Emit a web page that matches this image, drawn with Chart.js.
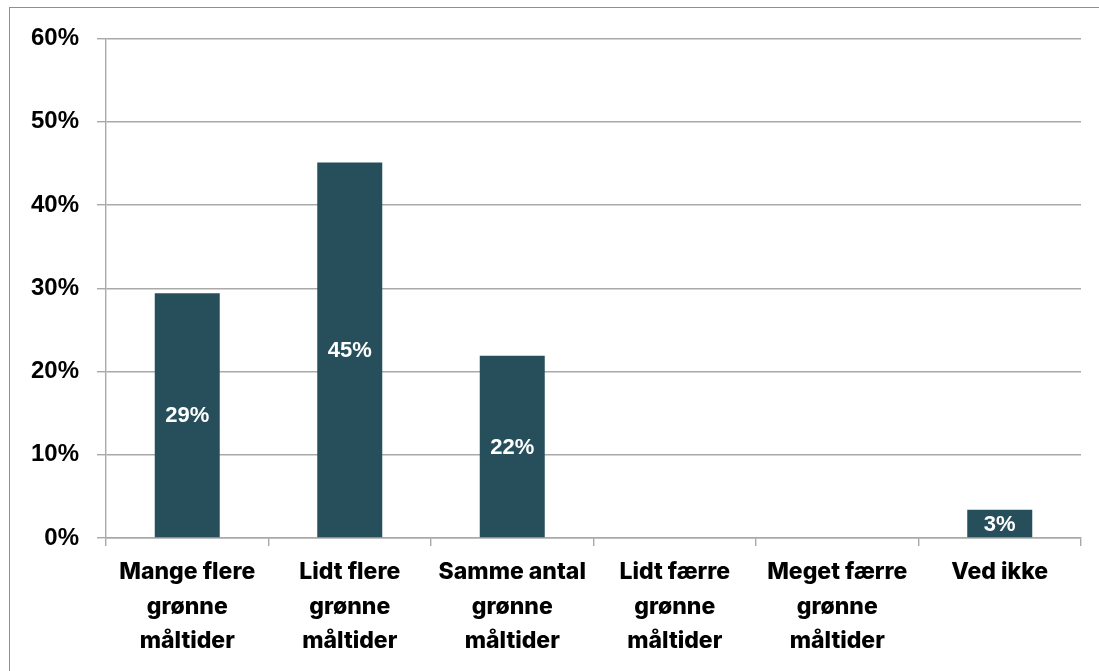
<!DOCTYPE html>
<html>
<head>
<meta charset="utf-8">
<script src="https://cdn.jsdelivr.net/npm/chart.js@4.4.1/dist/chart.umd.min.js"></script>
<style>
  html, body { margin: 0; padding: 0; background: #fff; overflow: hidden; }
  #frame {
    position: absolute; left: 9px; top: 7px; width: 1200px; height: 800px;
    border-left: 1.5px solid #8f8f8f; border-top: 1.5px solid #8f8f8f;
  }
  #myChart { position: absolute; left: 0; top: 0; }
</style>
</head>
<body>
<div id="frame"></div>
<canvas id="myChart" width="1099" height="671"></canvas>
<script>
const categories = [
  ['Mange flere', 'grønne', 'måltider'],
  ['Lidt flere', 'grønne', 'måltider'],
  ['Samme antal', 'grønne', 'måltider'],
  ['Lidt færre', 'grønne', 'måltider'],
  ['Meget færre', 'grønne', 'måltider'],
  ['Ved ikke']
];
const shares = [29.4, 45.1, 21.9, 0, 0, 3.4];
const yTicks = [0, 10, 20, 30, 40, 50, 60];

const barColor = '#264f5b';
const gridColor = '#a9a9a9';

// white value labels centred inside each bar
const barLabels = {
  id: 'barLabels',
  afterDatasetsDraw(chart) {
    const ctx = chart.ctx;
    const meta = chart.getDatasetMeta(0);
    ctx.save();
    ctx.fillStyle = '#ffffff';
    ctx.font = 'bold 22px "Liberation Sans", Arial, sans-serif';
    ctx.textAlign = 'center';
    ctx.textBaseline = 'middle';
    meta.data.forEach((bar, i) => {
      const v = shares[i];
      if (!v) return;
      ctx.fillText(Math.round(v) + '%', bar.x, (bar.y + bar.base) / 2 + 1);
    });
    ctx.restore();
  }
};

const ctx = document.getElementById('myChart');

new Chart(ctx, {
  type: 'bar',
  data: {
    labels: categories,
    datasets: [{
      data: shares,
      backgroundColor: barColor,
      borderWidth: 0,
      categoryPercentage: 1,
      barPercentage: 0.4
    }]
  },
  options: {
    responsive: false,
    animation: false,
    layout: { padding: { left: 10, top: 38.5, right: 18, bottom: 0 } },
    plugins: {
      legend: { display: false },
      tooltip: { enabled: false }
    },
    scales: {
      y: {
        min: 0,
        max: 60,
        afterBuildTicks(scale) {
          scale.ticks = yTicks.map(v => ({ value: v }));
        },
        afterFit(scale) { scale.width = 96; },
        ticks: {
          padding: 18,
          color: '#000',
          font: { family: '"Liberation Sans", Arial, sans-serif', size: 24, weight: 'bold' },
          callback: (v) => v + '%'
        },
        grid: { color: gridColor, lineWidth: 1.4, tickLength: 9 },
        border: { color: gridColor, width: 1.4 }
      },
      x: {
        afterFit(scale) { scale.height = 133; },
        ticks: {
          padding: 9,
          maxRotation: 0,
          autoSkip: false,
          color: '#000',
          font: { family: 'Inter, "Noto Sans", sans-serif', size: 23, weight: 800, lineHeight: 1.5 }
        },
        grid: { offset: true, drawOnChartArea: false, color: gridColor, lineWidth: 1.4, tickLength: 8 },
        border: { color: gridColor, width: 1.4 }
      }
    }
  },
  plugins: [barLabels]
});
</script>
</body>
</html>
